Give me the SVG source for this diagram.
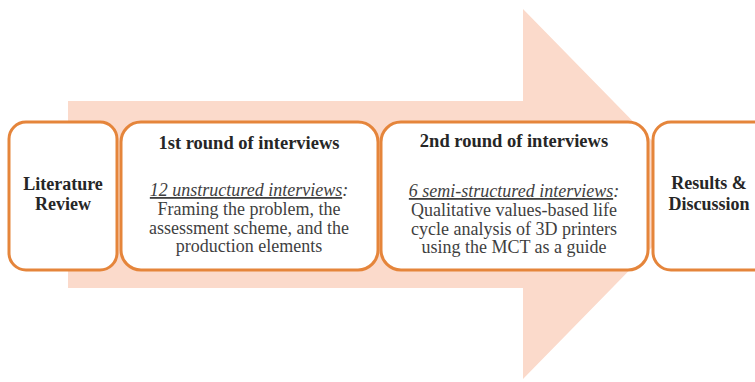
<svg xmlns="http://www.w3.org/2000/svg" width="755" height="382" viewBox="0 0 755 382">
<style>
.box{fill:#fff;stroke:#E5853B;stroke-width:3}
.t{font-family:"Liberation Serif","Times New Roman",serif;text-anchor:middle}
.h{font-size:18.5px;font-weight:bold;fill:#262626}
.s{font-size:18px}
.b{font-size:18px;fill:#3f3f3f}
.i{font-style:italic;text-decoration:underline}
</style>
<rect width="755" height="382" fill="#fff"/>
<g id="arrow">
<path d="M68,101 L523,101 L523,9 L704,194 L523,379 L523,288 L68,288 Z" fill="#FBDACB"/>
</g>
<g id="connectors"></g>
<g id="literature-review">
<rect class="box" x="9" y="122" width="108" height="148" rx="17"/>
<text class="t h s" x="63" y="190">Literature</text>
<text class="t h s" x="63" y="209.5">Review</text>
</g>
<g id="round1">
<rect class="box" x="121" y="122" width="257" height="148" rx="20"/>
<text class="t h" x="249" y="149">1st round of interviews</text>
<text class="t b" x="249" y="196"><tspan class="i">12 unstructured interviews</tspan><tspan font-style="italic">:</tspan></text>
<text class="t b" x="249" y="215">Framing the problem, the</text>
<text class="t b" x="249" y="233.5">assessment scheme, and the</text>
<text class="t b" x="249" y="252">production elements</text>
</g>
<g id="round2">
<rect class="box" x="381" y="122" width="267" height="148" rx="20"/>
<text class="t h" x="514" y="147">2nd round of interviews</text>
<text class="t b" x="514" y="197"><tspan class="i">6 semi-structured interviews</tspan><tspan font-style="italic">:</tspan></text>
<text class="t b" x="514" y="216">Qualitative values-based life</text>
<text class="t b" x="514" y="234.5">cycle analysis of 3D printers</text>
<text class="t b" x="514" y="253">using the MCT as a guide</text>
</g>
<g id="results">
<rect class="box" x="653" y="122" width="130" height="148" rx="18"/>
<text class="t h s" x="709" y="189">Results &amp;</text>
<text class="t h s" x="709" y="209.5">Discussion</text>
</g>
</svg>
